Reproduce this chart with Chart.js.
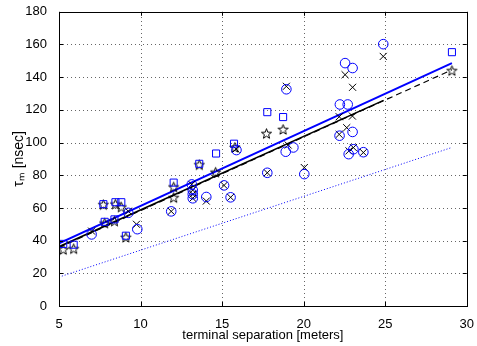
<!DOCTYPE html>
<html><head><meta charset="utf-8">
<script src="https://cdn.jsdelivr.net/npm/chart.js@4"></script>
<style>html,body{margin:0;padding:0;background:#fff}</style>
</head><body>
<canvas id="c" width="477" height="346"></canvas>
<script>
// ---- data ----
const xTicks = [5, 10, 15, 20, 25, 30];
const yTicks = [0, 20, 40, 60, 80, 100, 120, 140, 160, 180];

const squareX = [5.26, 5.9, 7.72, 7.8, 8.4, 8.46, 8.82, 9.1, 12.03, 13.6, 14.63, 15.73, 17.77, 18.74, 29.09];
const squareY = [38, 37.5, 62.3, 51.5, 53, 63.5, 63.5, 43, 75.5, 87, 93.3, 99.3, 118.6, 115.6, 155.3];

const starX = [5.26, 5.9, 7.72, 7.8, 8.4, 8.46, 8.82, 9.1, 12.03, 12.03, 13.6, 14.6, 15.78, 17.72, 18.74, 29.09];
const starY = [34.5, 35, 62, 50.7, 51.9, 62.3, 60.5, 42, 72.8, 66.3, 86.4, 81.8, 97, 105.5, 108, 144];

const circleX = [7.0, 9.25, 9.8, 11.88, 13.14, 13.2, 13.2, 13.2, 14.03, 15.12, 15.52, 15.88, 17.77, 18.94, 18.9, 19.37, 20.04, 22.54, 23.0, 22.22, 22.7, 22.2, 23.0, 22.76, 23.05, 23.66, 24.88];
const circleY = [43.8, 57, 47, 57.9, 74.4, 70.9, 68.4, 65.9, 66.7, 73.8, 66.5, 95.4, 81.5, 132.6, 94.4, 97, 80.7, 148.6, 145.6, 123.3, 123.3, 104.2, 106.5, 92.9, 95.9, 94.1, 160.2];

const crossX = [7.0, 9.25, 9.75, 11.88, 13.14, 13.2, 13.2, 13.2, 14.03, 15.12, 15.52, 15.85, 17.77, 18.94, 19.05, 20.04, 22.54, 23.0, 22.18, 22.99, 22.18, 22.64, 22.78, 23.05, 23.66, 24.88];
const crossY = [45.8, 58, 50, 57.9, 74.4, 70.9, 68.4, 65.9, 64.2, 73.8, 66.5, 96, 81.5, 134.4, 98.5, 84.7, 141.5, 133.8, 115.8, 116.2, 105, 109.1, 94.9, 96.9, 93.9, 152.7];

// fitted lines (end points)
const blueFitX = [5, 29.09];   const blueFitY = [38.4, 148.6];
const blackFitX = [5, 24.9];   const blackFitY = [36.3, 125.8];
const blackDashX = [5, 29.09]; const blackDashY = [35.8, 144.5];
const blueDotX = [5, 29.0];    const blueDotY = [17.7, 96.7];

// ---- helpers ----
const pts = (xs, ys) => xs.map((x, i) => ({x: x, y: ys[i]}));

function makeStar() {
  const s = 13, c = document.createElement('canvas');
  c.width = s; c.height = s;
  const g = c.getContext('2d');
  const cx = s / 2, cy = s / 2 + 0.4, R = 5.3, r = 2.2;
  g.beginPath();
  for (let i = 0; i < 10; i++) {
    const a = -Math.PI / 2 + i * Math.PI / 5;
    const rr = i % 2 === 0 ? R : r;
    const px = cx + rr * Math.cos(a), py = cy + rr * Math.sin(a);
    if (i === 0) g.moveTo(px, py); else g.lineTo(px, py);
  }
  g.closePath();
  g.strokeStyle = '#000'; g.lineWidth = 1; g.stroke();
  return c;
}
const starImg = makeStar();

const BLUE = '#0000ff';
const FONT = {family: '"Liberation Sans", Arial, Helvetica, sans-serif', size: 13};

const gridPlugin = {
  id: 'dotgrid',
  beforeDatasetsDraw(chart) {
    const {ctx, chartArea: a, scales} = chart;
    ctx.save();
    ctx.strokeStyle = 'rgba(0,0,0,0.6)'; ctx.lineWidth = 1;
    ctx.setLineDash([1, 3]);
    ctx.beginPath();
    xTicks.slice(1, -1).forEach(v => {
      const x = Math.round(scales.x.getPixelForValue(v)) + 0.5;
      ctx.moveTo(x, a.bottom); ctx.lineTo(x, a.top);
    });
    yTicks.slice(1, -1).forEach(v => {
      const y = Math.round(scales.y.getPixelForValue(v)) + 0.5;
      ctx.moveTo(a.left, y); ctx.lineTo(a.right, y);
    });
    ctx.stroke();
    ctx.restore();
  },
  afterDraw(chart) {
    const {ctx, chartArea: a, scales} = chart;
    ctx.save();
    ctx.strokeStyle = '#000'; ctx.lineWidth = 1;
    ctx.strokeRect(Math.round(a.left) + 0.5, Math.round(a.top) + 0.5, Math.round(a.right - a.left), Math.round(a.bottom - a.top));
    const L = 4;
    ctx.beginPath();
    xTicks.forEach(v => {
      const x = Math.round(scales.x.getPixelForValue(v)) + 0.5;
      ctx.moveTo(x, a.bottom); ctx.lineTo(x, a.bottom - L);
      ctx.moveTo(x, a.top); ctx.lineTo(x, a.top + L);
    });
    yTicks.forEach(v => {
      const y = Math.round(scales.y.getPixelForValue(v)) + 0.5;
      ctx.moveTo(a.left, y); ctx.lineTo(a.left + L, y);
      ctx.moveTo(a.right, y); ctx.lineTo(a.right - L, y);
    });
    ctx.stroke();
    ctx.restore();
  }
};

new Chart(document.getElementById('c'), {
  type: 'scatter',
  data: {
    datasets: [
      {label: 'squares', data: pts(squareX, squareY), pointStyle: 'rect', pointRadius: 5, borderColor: BLUE, backgroundColor: 'rgba(0,0,0,0)', borderWidth: 1, pointHoverRadius: 5},
      {label: 'circles', data: pts(circleX, circleY), pointStyle: 'circle', pointRadius: 4.8, borderColor: BLUE, backgroundColor: 'rgba(0,0,0,0)', borderWidth: 1},
      {label: 'crosses', data: pts(crossX, crossY), pointStyle: 'crossRot', pointRadius: 5, borderColor: '#000', backgroundColor: '#000', borderWidth: 1},
      {label: 'stars', data: pts(starX, starY), pointStyle: starImg, pointRadius: 6, borderColor: '#000'},
      {label: 'blue fit', data: pts(blueFitX, blueFitY), showLine: true, pointRadius: 0, borderColor: BLUE, borderWidth: 2},
      {label: 'black fit', data: pts(blackFitX, blackFitY), showLine: true, pointRadius: 0, borderColor: '#000', borderWidth: 1.6},
      {label: 'black dashed', data: pts(blackDashX, blackDashY), showLine: true, pointRadius: 0, borderColor: '#000', borderWidth: 1.2, borderDash: [6, 4]},
      {label: 'blue dotted', data: pts(blueDotX, blueDotY), showLine: true, pointRadius: 0, borderColor: BLUE, borderWidth: 1, borderDash: [1, 2]}
    ]
  },
  options: {
    responsive: false,
    animation: false,
    layout: {padding: {top: 10, right: 7, left: 0, bottom: 0}},
    plugins: {legend: {display: false}, tooltip: {enabled: false}},
    scales: {
      x: {
        type: 'linear', min: 5, max: 30,
        afterBuildTicks: s => { s.ticks = xTicks.map(v => ({value: v})); },
        afterFit: s => { s.height = 40; },
        ticks: {color: '#000', font: FONT, padding: 3, maxRotation: 0},
        grid: {display: false},
        border: {display: false},
        title: {display: true, text: 'terminal separation [meters]', color: '#000', font: FONT, padding: {top: 0, bottom: 3}}
      },
      y: {
        type: 'linear', min: 0, max: 180,
        afterBuildTicks: s => { s.ticks = yTicks.map(v => ({value: v})); },
        afterFit: s => { s.width = 59; },
        ticks: {color: '#000', font: FONT, padding: 4},
        grid: {display: false},
        border: {display: false},
        title: {display: true, text: 'τₘ [nsec]', color: '#000', font: {family: FONT.family, size: 14}, padding: {top: 11, bottom: 0}}
      }
    }
  },
  plugins: [gridPlugin]
});
</script>
</body></html>
